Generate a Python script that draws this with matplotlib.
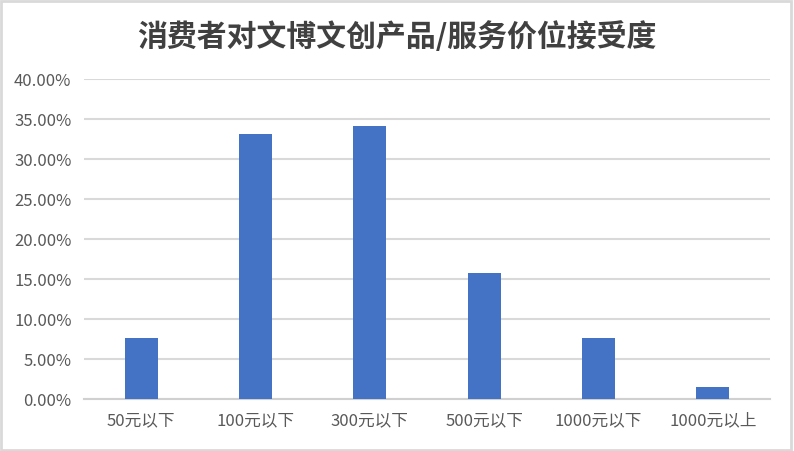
import matplotlib
matplotlib.use("Agg")
import matplotlib.pyplot as plt
from matplotlib.patches import Rectangle
from matplotlib.ticker import FuncFormatter, MultipleLocator

plt.rcParams['font.family'] = ['Noto Sans CJK SC', 'DejaVu Sans']

categories = ["50元以下", "100元以下", "300元以下", "500元以下", "1000元以下", "1000元以上"]
values = [0.076, 0.331, 0.341, 0.157, 0.076, 0.015]
title = "消费者对文博文创产品/服务价位接受度"

W, H = 794, 452
fig = plt.figure(figsize=(W / 100, H / 100), dpi=100)
ax = fig.add_axes([84 / W, 1 - 400 / H, (770 - 84) / W, (400 - 80) / H])

x = list(range(len(categories)))
ax.bar(x, values, width=0.29, color="#4472C4", zorder=3)
ax.set_xlim(-0.5, len(categories) - 0.5)
ax.set_ylim(0, 0.40)
ax.yaxis.set_major_locator(MultipleLocator(0.05))
ax.yaxis.set_major_formatter(FuncFormatter(lambda v, p: f"{v*100:.2f}%"))
ax.set_xticks(x)
ax.set_xticklabels(categories)
ax.grid(axis="y", color="#d9d9d9", linewidth=1.5, zorder=0)
for s in ["top", "right", "left"]:
    ax.spines[s].set_visible(False)
ax.spines["bottom"].set_color("#d0d0d0")
ax.spines["bottom"].set_linewidth(1.5)
ax.tick_params(axis="both", length=0, labelsize=12, colors="#595959")
ax.tick_params(axis="y", pad=9)
ax.tick_params(axis="x", pad=9)

fig.text(0.5, 1 - 37 / H, title, ha="center", va="center", fontsize=21.5,
         color="#404040", fontweight="bold")

fig.patches.append(Rectangle((1 / W, 1 / H), (W - 4) / W, (H - 3) / H,
                             transform=fig.transFigure, fill=False,
                             edgecolor="#d9d9d9", linewidth=2))

fig.savefig("out.png", dpi=100)
